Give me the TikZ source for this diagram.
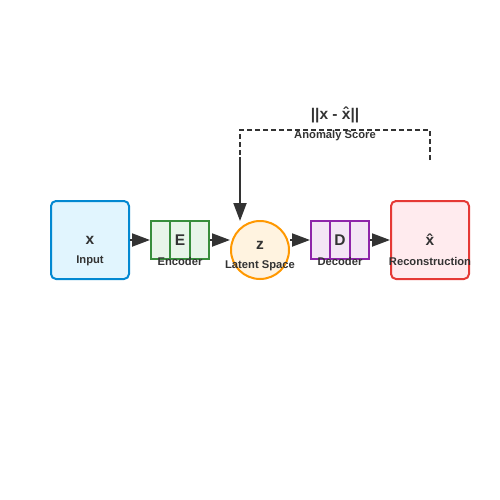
\documentclass[tikz,border=0pt]{standalone}
\usepackage{fontspec}
\setmainfont{Liberation Sans}
\usetikzlibrary{arrows.meta}
\definecolor{ink}{HTML}{333333}
\definecolor{inFill}{HTML}{E1F5FE}
\definecolor{inLine}{HTML}{0288D1}
\definecolor{encFill}{HTML}{E8F5E9}
\definecolor{encLine}{HTML}{388E3C}
\definecolor{latFill}{HTML}{FFF3E0}
\definecolor{latLine}{HTML}{FF9800}
\definecolor{decFill}{HTML}{F3E5F5}
\definecolor{decLine}{HTML}{8E24AA}
\definecolor{recFill}{HTML}{FFEBEE}
\definecolor{recLine}{HTML}{E53935}
\tikzset {>={Triangle[length=18pt,width=13pt]}}
\tikzset{
  bigbox/.style={draw,line width=2pt,rounded corners=5pt,minimum size=78pt,inner sep=0pt},
  layer/.style={draw,line width=2pt,minimum width=58pt,minimum height=38pt,inner sep=0pt},
  sym/.style={font=\fontsize{15.5}{18}\selectfont\bfseries,text=ink},
  tag/.style={font=\fontsize{11.2}{13}\selectfont\bfseries,text=ink},
  flow/.style={->,draw=ink,line width=2pt}
}
\newcommand*{\xhat}{x\char"0302}

\begin{document}
\begin{tikzpicture}[x=1pt,y=-1pt]
\useasboundingbox (0,0) rectangle (500,500);
% blocks
\node[bigbox,fill=inFill,draw=inLine] (input) at (90,240) {};
\node[layer,fill=encFill,draw=encLine] (enc) at (180,240) {};
\draw[encLine,line width=2pt] (170,220) -- (170,260) (190,220) -- (190,260);
\node[circle,draw=latLine,fill=latFill,line width=2pt,minimum size=58pt,inner sep=0pt] (lat) at (260,250) {};
\node[layer,fill=decFill,draw=decLine] (dec) at (340,240) {};
\draw[decLine,line width=2pt] (330,220) -- (330,260) (350,220) -- (350,260);
\node[bigbox,fill=recFill,draw=recLine] (rec) at (430,240) {};
% texts
\node[sym] (xin) at (90,240) {x};
\node[tag] at (90,261) {Input};
\node[sym] (encsym) at (180,240) {E};
\node[tag] at (180,261) {Encoder};
\node[sym] (zsym) at (260,245) {z};
\node[tag] at (260,266) {Latent Space};
\node[sym] (decsym) at (340,240) {D};
\node[tag] at (340,261) {Decoder};
\node[sym] (xout) at (430,240) {\xhat};
\node[tag] at (430,261) {Reconstruction};
% data flow
\draw[flow] (input) -- (enc);
\draw[flow] (enc.east) -- (enc.east -| lat.west);
\draw[flow] (dec.west -| lat.east) -- (dec.west);
\draw[flow] (dec) -- (rec);
% score feedback
\coordinate (scoreR) at (430,160);
\coordinate (scoreL) at (240,130);
\coordinate (scoreMid) at (240,157);
\coordinate (scoreIn) at (240,221);
\draw[ink,line width=1.5pt,dash pattern=on 5pt off 3pt] (scoreR) |- (scoreL) -- (scoreMid);
\draw[flow] (scoreMid) -- (scoreIn);
\node[sym] (norm) at (335,115) {||x - \xhat||};
\node[tag] (score) at (335,136) {Anomaly Score};
\end{tikzpicture}
\end{document}
